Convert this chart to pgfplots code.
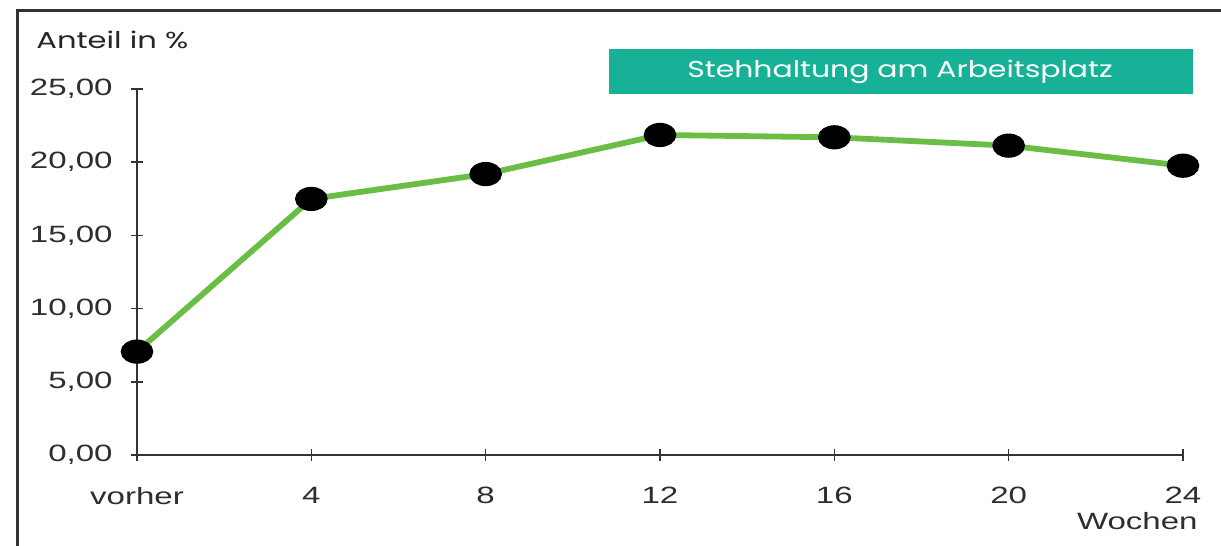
\documentclass[border=0pt]{standalone}
\usepackage{fontspec}
\setmainfont[FakeStretch=1.4]{Liberation Sans}
\newfontfamily\gothic[FakeStretch=1.33]{Poppins}
\newfontfamily\gothicbox[FakeStretch=1.3]{Poppins}
\usepackage{pgfplots}
\pgfplotsset{compat=1.18}
\definecolor{linegreen}{HTML}{6ABD45}
\definecolor{boxteal}{HTML}{16B197}
\definecolor{axgray}{HTML}{333333}
\definecolor{lblgray}{HTML}{2E2E2E}
\begin{document}
\begin{tikzpicture}[x=1pt,y=1pt]
\useasboundingbox (-68.5,-45.5) rectangle (542,227.5);
\draw[axgray, line width=1.5pt] (-59.5,-46) -- (-59.5,222) -- (543,222);
\begin{axis}[at={(0,0)}, anchor=south west, scale only axis,
  width=523pt, height=183pt,
  xmin=0, xmax=24, ymin=0, ymax=25,
  axis x line=bottom, axis y line=left,
  axis line style={-, axgray, line width=0.8pt},
  tick style={axgray, line width=0.8pt},
  tick align=center, major tick length=6pt,
  xtick={0,4,...,24}, xticklabels={vorher,4,8,12,16,20,24},
  ytick={0,5,...,25}, yticklabels={{0,00},{5,00},{10,00},{15,00},{20,00},{25,00}},
  ticklabel style={font=\fontsize{11.8}{13}\selectfont, text=lblgray, inner sep=0pt},
  xticklabel style={anchor=north, yshift=-13pt},
  yticklabel style={anchor=east, xshift=-9pt},
  clip=false]
\addplot[linegreen, line width=2.9pt, mark=*, mark size=4.6pt,
  mark options={xscale=1.45, fill=black, draw=black}]
  coordinates {(0,7.06) (4,17.49) (8,19.19) (12,21.86) (16,21.70) (20,21.13) (24,19.76)};
\end{axis}
\node[anchor=west, inner sep=0pt, font=\gothic\fontsize{11.5}{13}\selectfont, text=black!85] at (-50.5,207.5) {Anteil in \%};
\fill[boxteal] (236,180.5) rectangle (528,203);
\node[text=white, inner sep=0pt, font=\gothicbox\fontsize{11.5}{13}\selectfont] at (381.5,191.5) {Stehhaltung am Arbeitsplatz};
\node[anchor=east, inner sep=0pt, font=\fontsize{11.8}{13}\selectfont, text=lblgray] at (530.5,-33) {Wochen};
\end{tikzpicture}
\end{document}
